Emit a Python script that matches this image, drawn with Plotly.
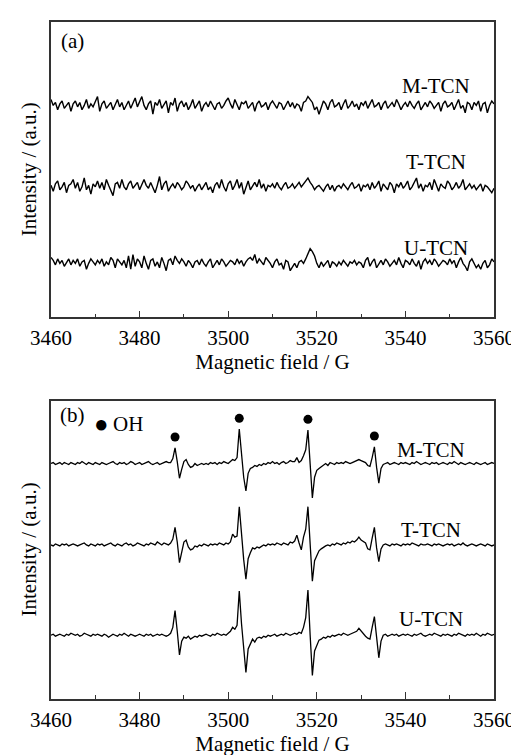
import numpy as np
import plotly.graph_objects as go

# ---------------- data ----------------
field_start = 3460.0
field_step = 0.5
n_points = 201
field = field_start + field_step * np.arange(n_points)

tick_vals = [3460, 3480, 3500, 3520, 3540, 3560]
tick_text = ["3460", "3480", "3500", "3520", "3540", "3560"]
samples = ["M-TCN", "T-TCN", "U-TCN"]

# Panel (a): dark condition, noise only (relative intensity, a.u.)
a_M = [4, 0, 2, -3, 1, 3, -2, 0, 2, -4,
       1, 3, -1, 2, -3, 0, 4, -2, 1, -1,
       2, 6, -4, 1, 3, -2, 0, 2, -3, 1,
       4, -1, 2, -3, 0, 3, -2, 1, 5, -1,
       2, 6, 0, -3, 1, 3, -6, 2, 0, 4,
       -2, 1, 3, -5, 2, 0, 5, -4, 1, 3,
       -1, 2, -3, 0, 4, -2, 1, 3, -4, 0,
       2, -1, 3, 0, -3, 1, 2, -2, 0, 3,
       5, 1, -2, 4, 0, -3, 2, 1, 3, -2,
       0, 2, -4, 1, 3, -1, 0, 2, -3, 1,
       3, 0, -2, 2, 1, -3, 0, 3, -1, 2,
       -2, 1, 0, -4, 2, 3, 6, 4, 2, -3,
       -1, -6, -2, 3, 1, -3, 2, 4, -1, 0,
       2, -3, 1, 4, -2, 0, 3, -1, 1, -3,
       2, 0, 3, -2, 1, 4, -1, 0, 2, -3,
       1, 3, -2, 0, 2, -1, 4, 1, -3, 0,
       2, -1, 3, 0, -2, 1, 3, -3, 0, 2,
       -1, 3, 1, -2, 0, 2, -4, 1, 3, -1,
       0, 2, -3, 1, 4, -2, 0, -5, 2, 1,
       -3, 2, 0, 3, -4, 1, 2, -5, 0, 3, 1]
a_T = [1, -3, 2, 4, -2, 0, 3, -4, 1, 2,
       5, -1, 3, -3, 0, 6, -2, 1, -5, 2,
       0, 4, -1, 3, -2, 5, 1, -3, -6, 2,
       3, -1, 5, 0, -2, 2, 4, -1, 1, 3,
       -2, 2, 5, 1, -1, 3, 0, -4, 1, 7,
       -2, 2, 4, -3, 0, 2, -1, 3, 1, -2,
       0, 4, 2, -1, 1, -3, 0, 2, -2, 1,
       3, -2, 0, -4, 1, 3, -1, 5, 0, -3,
       2, 4, -2, 1, 5, -1, 3, -5, 0, 4,
       -2, 1, 3, 0, 5, -1, 2, -3, 1, 0,
       2, -1, 3, 0, -2, 1, 3, -1, 0, 2,
       -1, 1, 3, 0, 2, 4, 6, 3, 1, -2,
       0, 1, -1, -3, 0, 2, -2, 1, -3, 0,
       1, -1, 2, 0, -2, 1, 3, -1, 0, 2,
       -3, 1, 0, 2, -2, 3, -1, 1, 4, -3,
       2, 0, -2, 3, 1, -4, 2, 0, 3, -1,
       1, 4, -2, 0, 3, 6, -1, 2, -3, 1,
       0, 3, -2, 5, 1, -3, 2, 0, -1, 4,
       2, -2, 0, 3, -1, 1, 5, -2, 0, 2,
       -1, 1, -2, 0, 2, -3, 1, 0, -2, -4, -1]
a_U = [4, 2, -1, 3, 0, 2, -2, 1, 3, -1,
       2, 0, 3, -2, 1, 2, -4, 0, 3, 1,
       -1, 2, 0, 3, -2, 1, -1, 4, 2, -3,
       3, 1, -1, 2, -3, 5, -4, 6, -2, 3,
       1, -3, 5, 0, -4, 2, 3, -2, 1, -3,
       4, 0, -5, 2, 3, -1, 5, 2, 0, 3,
       1, -2, 2, 0, -3, 1, 2, -1, 3, 0,
       -2, 1, 3, -3, 0, 2, -1, 3, 1, -2,
       0, 2, 1, -1, 3, 0, 2, -2, 1, 3,
       4, 2, 6, 0, 3, 1, -1, 4, 2, 0,
       -3, 1, 3, -1, 0, -4, 2, 1, -5, -2,
       0, -3, 1, 2, 0, 3, 6, 10, 8, 5,
       0, -3, 1, -2, 0, 2, -3, 1, 0, -2,
       1, -1, 2, 0, -2, 1, 0, 2, -1, 1,
       0, -3, 2, 4, -2, 1, 3, -3, 0, 2,
       -1, 3, 1, -2, 0, 2, -1, 4, 0, -3,
       2, 1, -1, 3, 0, -2, 2, -4, 1, 3,
       0, 2, -1, 3, 1, -2, 0, 2, 1, -1,
       3, 0, 2, -3, 1, 4, 0, -2, -5, 1,
       3, 0, -3, -1, -4, 0, 2, -3, -1, 3, 1]

# Panel (b): DMPO-OH quartet (relative intensity, a.u.)
b_M = [0, 1, -1, 0, 1, -1, 1, 0, -1, 1,
       0, -1, 1, 0, 2, 0, -1, 1, 0, -1,
       1, 0, -1, 1, 0, -1, 0, 1, 2, 0,
       -1, 1, 0, 1, -1, 0, 2, 1, -1, 0,
       1, -1, 0, 1, 2, 0, -1, 0, 1, -1,
       0, 1, 2, 1, 1, 5, 16, 2, -15, -6,
       2, 4, -1, -4, -3, 0, -2, -1, 0, -1,
       0, -1, 1, 0, 1, -1, 1, 0, 2, 1,
       0, 2, 4, 3, 6, 35, 8, -14, -28, -10,
       -5, -4, -2, -3, -1, -2, 0, -1, 1, 0,
       2, 0, 1, -1, 1, 2, 0, 1, 3, 2,
       2, 6, 1, 3, 8, 14, 34, -2, -35, -14,
       -7, -5, -3, -1, 0, -2, 1, 0, -1, 1,
       0, 1, 0, 2, 1, 0, 1, 2, 3, 4,
       3, 2, 1, -2, -3, 6, 17, -4, -20, -5,
       -1, 0, 1, -1, 0, 1, 0, -1, 1, 0,
       1, 0, -1, 1, 0, 2, 0, -1, 0, 1,
       0, -1, 1, 0, 1, -1, 0, 1, 0, -1,
       1, 0, 2, 0, -1, 1, 0, -1, 0, 1,
       0, -1, 1, 0, -1, 0, 1, -1, 0, 1, 0]
b_T = [0, -1, 1, 0, -1, 1, 0, 1, -1, 0,
       1, 0, -1, 0, 1, 2, 0, -1, 1, 0,
       -1, 1, 0, 1, -1, 0, 1, 2, 0, -1,
       1, 0, -1, 1, 2, 0, 1, -1, 0, 2,
       1, 0, -1, 1, 0, 2, 1, 0, 3, 1,
       0, 2, 1, 0, 2, 6, 18, 3, -18, -8,
       3, 5, -2, -5, -4, -1, -2, 0, -1, 1,
       0, -1, 1, 0, 1, 0, 2, 1, 0, 2,
       1, 3, 11, 8, 9, 39, 10, -15, -35, -14,
       -8, -3, -4, -2, -3, -1, 0, -1, 1, 0,
       1, 0, 2, 1, 0, 2, 1, 0, 3, 2,
       4, 10, 2, -5, 8, 16, 39, 0, -37, -16,
       -10, -6, -4, -2, -1, 0, -1, 1, 0, 2,
       1, 0, 2, 1, 3, 2, 4, 3, 5, 8,
       5, 3, 2, -4, -5, 7, 18, -3, -17, -4,
       0, 1, 0, -1, 1, 0, 1, 0, -1, 1,
       0, 1, 0, 2, 1, 0, -1, 1, 0, 0,
       1, 0, -1, 1, 0, 1, 0, -1, 0, 1,
       0, 1, -1, 0, 1, 0, 2, 0, -1, 0,
       1, 0, -1, 0, 1, 0, -1, 1, 0, -1, 0]
b_U = [0, 1, -1, 0, 1, 0, -1, 1, 0, 2,
       1, 0, 1, -1, 0, 2, 1, 0, -1, 1,
       0, 1, 0, -1, 1, 0, -2, 0, 1, 0,
       -1, 1, 0, 2, 0, -1, 1, 0, -1, 0,
       1, 0, -1, 1, 0, 1, -1, 0, 1, 0,
       1, 0, -1, 0, 2, 8, 25, 4, -20, -6,
       -2, -3, -1, -4, -2, -1, -2, 0, -1, 0,
       1, 0, -1, 1, 0, 2, 1, 0, 1, 0,
       2, 4, 8, 6, 10, 45, 12, -16, -38, -14,
       -8, -4, -7, -3, -2, -3, -1, -2, 0, -1,
       0, 1, -1, 0, 1, 0, 2, 1, 0, 1,
       2, 1, 3, 2, 8, 18, 46, 0, -41, -16,
       -10, -5, -4, -2, -3, -1, -2, 0, -1, 0,
       1, 0, 2, 1, 0, 1, 2, 3, 4, 7,
       4, 2, -1, -3, -4, 8, 19, -2, -23, -6,
       0, 1, -1, 0, 1, 0, 1, -1, 0, 1,
       0, 1, 0, -1, 1, 0, 1, 2, 0, -1,
       0, 1, 0, 2, 1, 0, -1, 1, 0, 1,
       0, -1, 1, 0, 2, 1, 0, -1, 1, 0,
       1, 0, 2, 0, -1, 1, 0, 2, 1, 0, 1]

oh_peaks = [3488.0, 3502.7, 3517.8, 3532.8]

# ---------------- styling / layout parameters ----------------
font_family = "Liberation Serif"
fs = 21
a_gain = 1.5
a_offsets = [216, 133, 55]
b_offsets = [240, 157, 65]
a_label_dy = [20, 25, 16]
b_label_dy = [14, 15, 17]
label_x = [3546.8, 3545.7]

fig = go.Figure()
line_a = dict(color="black", width=1.4)
line_b = dict(color="black", width=1.3)

for vals, off in zip([a_M, a_T, a_U], a_offsets):
    fig.add_trace(go.Scatter(x=field, y=a_gain * np.array(vals) + off,
                             mode="lines", line=line_a, xaxis="x", yaxis="y",
                             showlegend=False, hoverinfo="skip"))
for vals, off in zip([b_M, b_T, b_U], b_offsets):
    fig.add_trace(go.Scatter(x=field, y=np.array(vals) + off, mode="lines",
                             line=line_b, xaxis="x2", yaxis="y2",
                             showlegend=False, hoverinfo="skip"))

# OH markers above the M-TCN peaks, derived from the data
bm = np.array(b_M) + b_offsets[0]
dot_x, dot_y = [], []
for p in oh_peaks:
    win = np.where(np.abs(field - p) <= 1.0)[0]
    k = win[np.argmax(bm[win])]
    dot_x.append(field[k])
    dot_y.append(bm[k] + 11)
fig.add_trace(go.Scatter(x=dot_x, y=dot_y, mode="markers",
                         marker=dict(color="black", size=9),
                         xaxis="x2", yaxis="y2", showlegend=False,
                         hoverinfo="skip"))

ax_common = dict(range=[3460, 3560], tickmode="array", tickvals=tick_vals,
                 ticktext=tick_text, ticks="inside", ticklen=7, tickwidth=1.2,
                 tickcolor="#333", showline=True, linecolor="#333",
                 linewidth=1.5, mirror=True, showgrid=False, zeroline=False,
                 tickfont=dict(family=font_family, size=fs, color="black"),
                 minor=dict(dtick=10, tick0=3460, ticks="inside", ticklen=4,
                            tickwidth=1.2, tickcolor="#333", showgrid=False),
                 title=dict(text="Magnetic field / G",
                            font=dict(family=font_family, size=fs, color="black"),
                            standoff=4),
                 ticklabelstandoff=1)
ay_common = dict(showticklabels=False, ticks="", showline=True,
                 linecolor="#333", linewidth=1.5, mirror=True,
                 showgrid=False, zeroline=False)

fig.update_layout(
    width=519, height=755,
    margin=dict(l=43, r=21, t=12, b=53),
    paper_bgcolor="white", plot_bgcolor="white",
    xaxis=dict(ax_common, anchor="y", domain=[0, 1]),
    yaxis=dict(ay_common, anchor="x", domain=[0.5638, 1], range=[0, 301]),
    xaxis2=dict(ax_common, anchor="y2", domain=[0, 1]),
    yaxis2=dict(ay_common, anchor="x2", domain=[0, 0.4406], range=[0, 304]),
)

ann_font = dict(family=font_family, size=fs, color="black")
c = dict(showarrow=False, font=ann_font, xanchor="center", yanchor="middle")
annotations = []
for name, off, dy in zip(samples, a_offsets, a_label_dy):
    annotations.append(dict(c, x=label_x[0], y=off + dy, xref="x", yref="y",
                            text=name))
for name, off, dy in zip(samples, b_offsets, b_label_dy):
    annotations.append(dict(c, x=label_x[1], y=off + dy, xref="x2", yref="y2",
                            text=name))
annotations += [
    dict(c, x=0.048, y=0.934, xref="x domain", yref="y domain", text="(a)"),
    dict(c, x=0.048, y=0.951, xref="x2 domain", yref="y2 domain", text="(b)"),
    dict(c, x=0.115, y=0.921, xref="x2 domain", yref="y2 domain",
         text="<span style='font-size:24px'>●</span>"),
    dict(c, x=0.173, y=0.921, xref="x2 domain", yref="y2 domain", text="OH"),
    dict(c, x=-0.0505, y=0.5, xref="x domain", yref="y domain",
         text="Intensity / (a.u.)", textangle=-90),
    dict(c, x=-0.0505, y=0.5, xref="x2 domain", yref="y2 domain",
         text="Intensity / (a.u.)", textangle=-90),
]
fig.update_layout(annotations=annotations)

fig.write_html("out.html")
